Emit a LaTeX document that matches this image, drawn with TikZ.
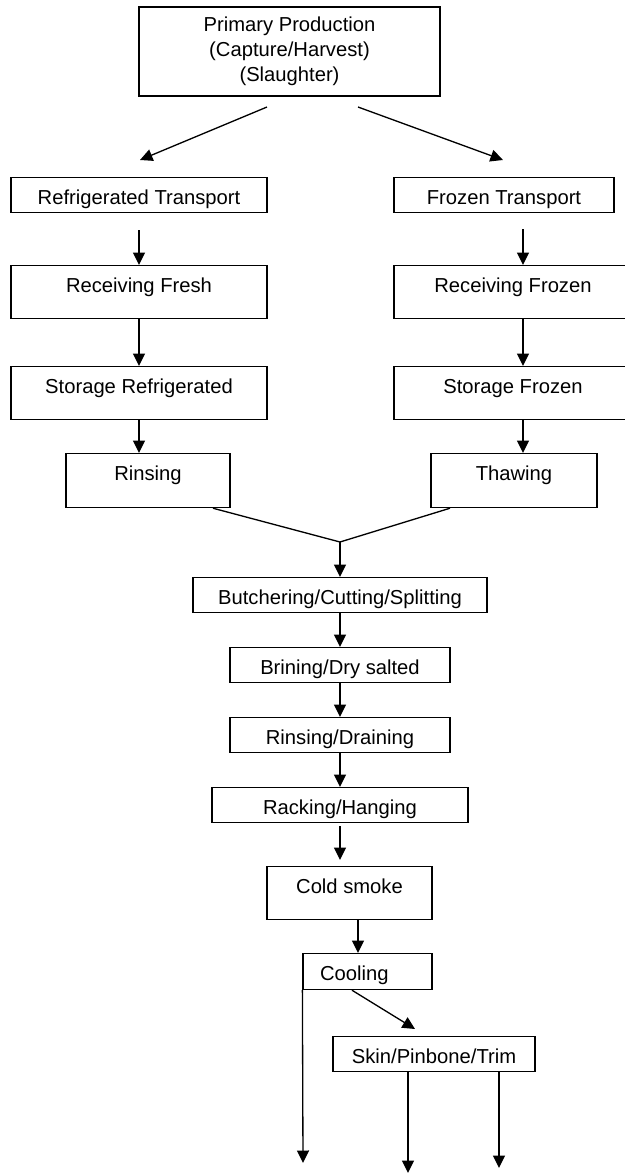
\documentclass[tikz,border=0pt]{standalone}
\usepackage{fontspec}
\setmainfont{Liberation Sans}
\usetikzlibrary{arrows.meta,calc}
\tikzset{
  stepbox/.style={draw,line width=0.7pt,anchor=north,text height=0.54cm,inner ysep=0pt},
  flow/.style={-{Triangle[length=0.25cm,width=0.24cm]},line width=0.75pt},
  plain/.style={line width=0.75pt}
}
\begin{document}
\begin{tikzpicture}[x=0.02cm,y=-0.02cm,every node/.style={font={\fontsize{11.5}{14.2}\selectfont}}]
  \useasboundingbox (0,0) rectangle (625,1174);
  \clip (0,0) rectangle (625,1174);
  % top box and the two branches
  \node[draw,line width=0.7pt,align=center,minimum width=6.02cm,minimum height=1.78cm] (prim) at (289.5,51.5) {Primary Production\\(Capture/Harvest)\\(Slaughter)};
  \coordinate (pl) at (267,107);
  \coordinate (pr) at (358,107);
  \coordinate (ml) at (140,160);
  \coordinate (mr) at (503,160);
  \draw[flow] (pl) -- (ml);
  \draw[flow] (pr) -- (mr);
  % fresh side
  \node[stepbox,minimum width=5.12cm,text depth=0.16cm] (reft) at (139,177) {Refrigerated Transport};
  \node[stepbox,minimum width=5.12cm,text depth=0.52cm] (recf) at (139,265) {Receiving Fresh};
  \node[stepbox,minimum width=5.12cm,text depth=0.52cm] (stof) at (139,366) {Storage Refrigerated};
  \node[stepbox,minimum width=3.28cm,text depth=0.54cm] (rins) at (148,453) {Rinsing};
  % frozen side
  \node[stepbox,minimum width=4.40cm,text depth=0.16cm] (frzt) at (504,177) {Frozen Transport};
  \node[stepbox,minimum width=4.76cm,text depth=0.52cm] (recz) at (513,265) {Receiving Frozen};
  \node[stepbox,minimum width=4.76cm,text depth=0.52cm] (stoz) at (513,366) {Storage Frozen};
  \node[stepbox,minimum width=3.32cm,text depth=0.54cm] (thaw) at (514,453) {Thawing};
  \draw[flow] ($(reft.south)+(0,17)$) -- (recf.north);
  \draw[flow] (recf) -- (stof);
  \draw[flow] (stof.south) -- (stof.south |- rins.north);
  \draw[flow] ($(frzt.south -| 523,0)+(0,16)$) -- (recz.north -| 523,0);
  \draw[flow] (recz.south -| 523,0) -- (stoz.north -| 523,0);
  \draw[flow] (stoz.south -| 523,0) -- (thaw.north -| 523,0);
  % both sides join
  \coordinate (join) at (340,542);
  \draw[plain] (rins.south -| 213,0) -- (join);
  \draw[plain] (thaw.south -| 450,0) -- (join);
  % main line
  \node[stepbox,minimum width=5.88cm,text depth=0.16cm] (butc) at (340,577) {Butchering/Cutting/Splitting};
  \node[stepbox,minimum width=4.40cm,text depth=0.16cm] (brin) at (340,647) {Brining/Dry salted};
  \node[stepbox,minimum width=4.40cm,text depth=0.16cm] (rdra) at (340,717) {Rinsing/Draining};
  \node[stepbox,minimum width=5.12cm,text depth=0.16cm] (rack) at (340,787) {Racking/Hanging};
  \node[stepbox,minimum width=3.30cm,text depth=0.52cm] (cold) at (349.5,866) {Cold smoke};
  \node[stepbox,text width=1.9cm,inner xsep=0.34cm,align=left,text depth=0.18cm] (cool) at (367.5,953) {Cooling};
  \node[stepbox,minimum width=4.04cm,text depth=0.16cm] (skin) at (434,1036) {Skin/Pinbone/Trim};
  \draw[flow] (join) -- (butc);
  \draw[flow] (butc) -- (brin);
  \draw[flow] (brin) -- (rdra);
  \draw[flow] (rdra) -- (rack);
  \draw[flow] ($(rack.south)+(0,3)$) -- ($(rack.south |- cold.north)+(0,-6)$);
  \draw[flow] (cold.south -| 358,0) -- (cool.north -| 358,0);
  % outputs
  \coordinate (outa) at (303,1163);
  \coordinate (skto) at (415,1029);
  \coordinate (outb) at (408,1173);
  \coordinate (outc) at (499,1168);
  \draw[flow] (cool.south west) -- (outa);
  \draw[flow] (cool.south -| 352,0) -- (skto);
  \draw[flow] (skin.south -| outb) -- (outb);
  \draw[flow] (skin.south -| outc) -- (outc);
\end{tikzpicture}
\end{document}
